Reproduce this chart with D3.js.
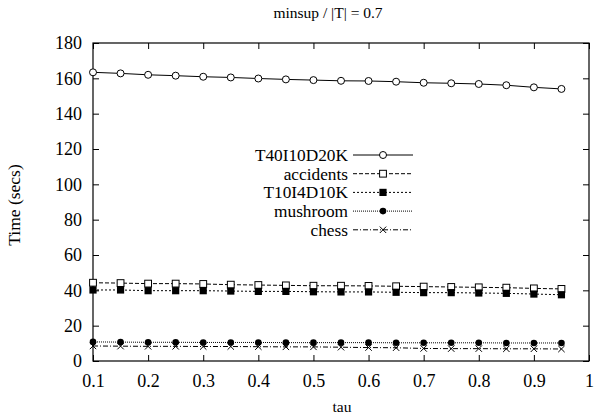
<!DOCTYPE html>
<html><head><meta charset="utf-8">
<script src="https://cdn.jsdelivr.net/npm/d3@7"></script>
<style>body{margin:0;background:#fff}</style>
</head><body><svg id="c" width="595" height="416"></svg>
<script>
const tau = [0.1,0.15,0.2,0.25,0.3,0.35,0.4,0.45,0.5,0.55,0.6,0.65,0.7,0.75,0.8,0.85,0.9,0.95];
const T40I10D20K = [163.4,162.8,162.0,161.5,160.9,160.5,159.9,159.4,159.0,158.6,158.5,158.1,157.5,157.2,156.8,156.1,154.9,154.0];
const accidents = [44.3,44.1,43.8,43.8,43.6,43.2,43.0,42.8,42.6,42.6,42.5,42.3,42.1,41.9,41.7,41.5,41.1,40.8];
const T10I4D10K = [40.2,40.2,39.8,39.8,39.8,39.6,39.4,39.4,39.2,39.1,39.1,38.9,38.7,38.7,38.5,38.3,37.9,37.5];
const mushroom = [10.8,10.7,10.6,10.6,10.5,10.5,10.5,10.4,10.4,10.4,10.4,10.3,10.3,10.3,10.3,10.2,10.2,10.2];
const chess = [8.5,8.4,8.3,8.3,8.2,8.2,8.1,8.0,8.0,7.8,7.6,7.5,7.1,7.0,7.0,6.9,6.9,6.8];
const seriesNames = ["T40I10D20K","accidents","T10I4D10K","mushroom","chess"];
const xTicks = [0.1,0.2,0.3,0.4,0.5,0.6,0.7,0.8,0.9,1];
const yTicks = [0,20,40,60,80,100,120,140,160,180];
const title = "minsup / |T| = 0.7", xLabel = "tau", yLabel = "Time (secs)";

const FF = "Liberation Serif";
const seriesData = [T40I10D20K, accidents, T10I4D10K, mushroom, chess];
const styles = [
  {dash:null, marker:"circle"},
  {dash:"4,2", marker:"square"},
  {dash:"2,2", marker:"fsquare"},
  {dash:"1,1", marker:"fcircle"},
  {dash:"5,2,1,2", marker:"cross"}
];
const L=93,R=589,T=43,B=361;
const svg=d3.select("#c");
const x=d3.scaleLinear().domain([0.1,1]).range([L,R]);
const y=d3.scaleLinear().domain([0,180]).range([B,T]);

svg.append("text").attr("x",328).attr("y",18).attr("text-anchor","middle").attr("font-family",FF).attr("font-size",15.5).text(title);
svg.append("text").attr("x",342).attr("y",412).attr("text-anchor","middle").attr("font-family",FF).attr("font-size",15.5).text(xLabel);
svg.append("text").attr("transform","translate(20,"+((T+B)/2+3)+") rotate(-90)").attr("text-anchor","middle").attr("font-family",FF).attr("font-size",17.5).text(yLabel);

const tk=6;
const gx=svg.append("g").attr("transform","translate(0,"+B+")").call(d3.axisBottom(x).tickValues(xTicks).tickSize(-tk).tickPadding(13).tickFormat(d3.format("")));
const gxt=svg.append("g").attr("transform","translate(0,"+T+")").call(d3.axisTop(x).tickValues(xTicks).tickSize(-tk).tickFormat(""));
const gy=svg.append("g").attr("transform","translate("+L+",0)").call(d3.axisLeft(y).tickValues(yTicks).tickSize(-tk).tickPadding(11));
const gyr=svg.append("g").attr("transform","translate("+R+",0)").call(d3.axisRight(y).tickValues(yTicks).tickSize(-tk).tickFormat(""));
[gx,gxt,gy,gyr].forEach(g=>{g.attr("font-family",FF).attr("font-size",18);g.select(".domain").remove();g.selectAll("line").attr("stroke","#000");g.selectAll("text").attr("fill","#000").attr("font-family",FF);});
svg.append("rect").attr("x",L).attr("y",T).attr("width",R-L).attr("height",B-T).attr("fill","none").attr("stroke","#000").attr("stroke-width",1.2);

function marker(g,type,cx,cy){
  if(type==="circle") g.append("circle").attr("cx",cx).attr("cy",cy).attr("r",3.5).attr("fill","#fff").attr("stroke","#000");
  else if(type==="fcircle") g.append("circle").attr("cx",cx).attr("cy",cy).attr("r",3.3).attr("fill","#000");
  else if(type==="square") g.append("rect").attr("x",cx-3.4).attr("y",cy-3.4).attr("width",6.8).attr("height",6.8).attr("fill","#fff").attr("stroke","#000");
  else if(type==="fsquare") g.append("rect").attr("x",cx-3.6).attr("y",cy-3.6).attr("width",7.2).attr("height",7.2).attr("fill","#000");
  else if(type==="cross"){g.append("path").attr("d",`M${cx-3.2},${cy-3.2}L${cx+3.2},${cy+3.2}M${cx-3.2},${cy+3.2}L${cx+3.2},${cy-3.2}`).attr("stroke","#000");}
}
const line=d3.line().x((d,i)=>x(tau[i])).y(d=>y(d));
seriesData.forEach((s,k)=>{
  const g=svg.append("g");
  g.append("path").attr("d",line(s)).attr("fill","none").attr("stroke","#000").attr("stroke-width",1).attr("stroke-dasharray",styles[k].dash);
  s.forEach((v,i)=>marker(g,styles[k].marker,x(tau[i]),y(v)));
});
// legend
const ly=[155,173.7,192.4,211.1,229.8];
seriesNames.forEach((n,k)=>{
  const g=svg.append("g");
  g.append("text").attr("x",348).attr("y",ly[k]+6).attr("text-anchor","end").attr("font-family",FF).attr("font-size",17.3).text(n);
  g.append("line").attr("x1",353).attr("x2",413).attr("y1",ly[k]).attr("y2",ly[k]).attr("stroke","#000").attr("stroke-dasharray",styles[k].dash);
  marker(g,styles[k].marker,383,ly[k]);
});
</script></body></html>
